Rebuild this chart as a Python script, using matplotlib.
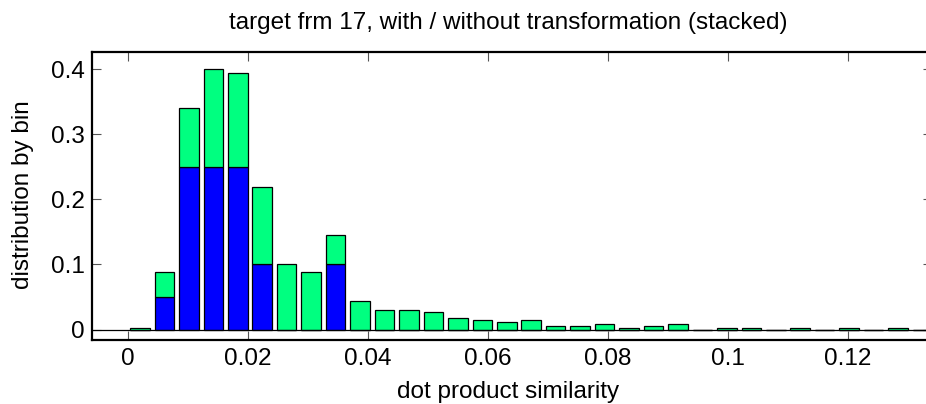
import numpy as np
import matplotlib
matplotlib.use('Agg')
import matplotlib.pyplot as plt

# histogram of dot product similarity, 33 bins from 0 up to 0.1345
bin_edge_max = 0.1345
n_bins = 33

# share of pairs per bin, with transformation (blue, bottom part)
with_tr = [0, 0.05, 0.25, 0.25, 0.25, 0.1, 0, 0, 0.1, 0, 0,
           0, 0, 0, 0, 0, 0, 0, 0, 0, 0, 0,
           0, 0, 0, 0, 0, 0, 0, 0, 0, 0, 0]
# share of pairs per bin, without transformation (green, stacked on top)
without_tr = [0.003, 0.0385, 0.091, 0.150, 0.144, 0.119, 0.100, 0.0885, 0.045, 0.044, 0.0296,
              0.0296, 0.027, 0.018, 0.015, 0.012, 0.015, 0.006, 0.006, 0.009, 0.003, 0.006,
              0.009, 0, 0.003, 0.003, 0, 0.003, 0, 0.003, 0, 0.003, 0]

x_ticks = [0, 0.02, 0.04, 0.06, 0.08, 0.1, 0.12]
x_tick_labels = ['0', '0.02', '0.04', '0.06', '0.08', '0.1', '0.12']
y_ticks = [0, 0.1, 0.2, 0.3, 0.4]
y_tick_labels = ['0', '0.1', '0.2', '0.3', '0.4']

edges = np.linspace(0, bin_edge_max, n_bins + 1)
centers = (edges[:-1] + edges[1:]) / 2
bw = edges[1] - edges[0]

plt.rcParams['font.family'] = ['Liberation Sans', 'DejaVu Sans']
fs = 17.5

W, H = 926, 404
fig = plt.figure(figsize=(W / 100, H / 100), dpi=100)
# right edge of the box sits just past the canvas
ax = fig.add_axes([92 / W, (H - 339.5) / H, (932 - 92) / W, (339.5 - 51.7) / H])

blue = (0, 0, 1)
green = (0, 1, 0.5)
ax.bar(centers, with_tr, width=0.8 * bw, color=blue, edgecolor='black', linewidth=0.9, zorder=2)
ax.bar(centers, without_tr, width=0.8 * bw, bottom=with_tr, color=green, edgecolor='black',
       linewidth=0.9, zorder=2)
ax.axhline(0, color='black', linewidth=0.9, zorder=3)

ax.set_xlim(-0.00595, 0.13405)
ax.set_ylim(-0.01537, 0.4272)
ax.set_xticks(x_ticks)
ax.set_xticklabels(x_tick_labels)
ax.set_yticks(y_ticks)
ax.set_yticklabels(y_tick_labels)
ax.tick_params(direction='in', length=6.5, width=0.8, color='#555555', labelsize=fs,
               top=True, right=True)
ax.tick_params(axis='x', pad=6)
ax.tick_params(axis='y', pad=5)
for s in ax.spines.values():
    s.set_linewidth(1.6)

fig.text(508 / W, (H - 29.3) / H, 'target frm 17, with / without transformation (stacked)',
         ha='center', va='baseline', fontsize=fs)
fig.text(508 / W, (H - 398) / H, 'dot product similarity', ha='center', va='baseline', fontsize=fs)
fig.text(23 / W, (H - 195) / H, 'distribution by bin', ha='center', va='center',
         rotation=90, fontsize=fs)

fig.savefig('out.png', dpi=100)
